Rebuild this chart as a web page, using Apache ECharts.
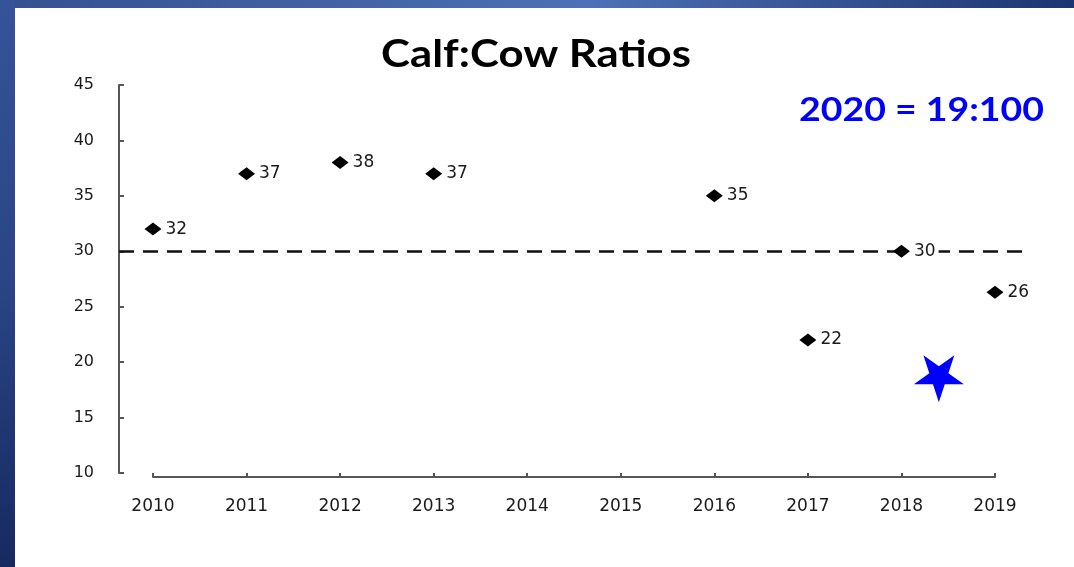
<!DOCTYPE html>
<html>
<head>
<meta charset="utf-8">
<script src="https://cdn.jsdelivr.net/npm/echarts@6/dist/echarts.min.js"></script>
<style>
  html, body { margin: 0; padding: 0; }
  body { width: 1074px; height: 567px; position: relative; overflow: hidden; }
  .topbar { position: absolute; left: 0; top: 0; width: 1074px; height: 8px;
    background: linear-gradient(90deg, #34508f 0%, #4e70b6 55%, #1d3570 100%); }
  .leftbar { position: absolute; left: 0; top: 0; width: 15px; height: 567px;
    background: linear-gradient(180deg, #36539a 0%, #2a4485 50%, #172a60 100%); }
  .panel { position: absolute; left: 15px; top: 8px; width: 1059px; height: 559px; background: #fff; }
  #chart { position: absolute; left: 0; top: 0; width: 1074px; height: 567px; }
</style>
</head>
<body>
<div class="topbar"></div>
<div class="leftbar"></div>
<div class="panel"></div>
<div id="chart"></div>
<script>
  // survey years with a count
  let years = [2010, 2011, 2012, 2013, 2016, 2017, 2018, 2019]
  let ratios = [32, 37, 38, 37, 35, 22, 30, 26.3]
  // 2020 estimate drawn as a star
  let star2020 = [2018.4, 18.5]
  let target = 30

  let starPath = 'path://M0,100 L-22.5,30.9 L-95.1,30.9 L-36.3,-11.8 L-58.8,-80.9 L0,-38.2 L58.8,-80.9 L36.3,-11.8 L95.1,30.9 L22.5,30.9 Z'
  let axisColor = '#555'
  let textColor = '#1a1a1a'
  let font = 'DejaVu Sans'

  let myChart = echarts.init(document.getElementById('chart'))
  let option = {
    animation: false,
    graphic: [
      {
        type: 'text',
        x: 536,
        y: 55,
        scaleX: 1.15,
        style: {
          text: 'Calf:Cow Ratios',
          fill: '#000',
          font: 'bold 38px Lato',
          textAlign: 'center',
          textVerticalAlign: 'middle'
        }
      },
      {
        type: 'text',
        x: 1044,
        y: 111,
        scaleX: 1.17,
        style: {
          text: '2020 = 19:100',
          fill: '#0000ff',
          font: 'bold 32px Lato',
          textAlign: 'right',
          textVerticalAlign: 'middle'
        }
      }
    ],
    grid: [
      {left: 119, right: 46, top: 85, bottom: 94},
      {left: 153, right: 79, top: 85, bottom: 94}
    ],
    xAxis: [
      {gridIndex: 0, type: 'value', min: 2009.6, max: 2019.4, show: false},
      {
        gridIndex: 1,
        type: 'value',
        min: 2010,
        max: 2019,
        interval: 1,
        offset: 4,
        axisLine: {show: true, lineStyle: {color: axisColor, width: 2}},
        axisTick: {show: true, inside: true, length: 4, lineStyle: {color: axisColor, width: 2}},
        axisLabel: {margin: 21, color: textColor, fontSize: 17, fontFamily: font, formatter: v => String(v)},
        splitLine: {show: false}
      }
    ],
    yAxis: [
      {
        gridIndex: 0,
        type: 'value',
        min: 10,
        max: 45,
        interval: 5,
        axisLine: {show: true, lineStyle: {color: axisColor, width: 2}},
        axisTick: {show: true, inside: true, length: 5, lineStyle: {color: axisColor, width: 2}},
        axisLabel: {margin: 25, color: textColor, fontSize: 16, fontFamily: font},
        splitLine: {show: false}
      },
      {gridIndex: 1, type: 'value', min: 10, max: 45, show: false}
    ],
    series: [
      {
        type: 'line',
        xAxisIndex: 0,
        yAxisIndex: 0,
        z: 1,
        data: [],
        markLine: {
          silent: true,
          z: 1,
          symbol: 'none',
          label: {show: false},
          lineStyle: {color: '#111', type: [15, 9], width: 2.5},
          data: [{yAxis: target}]
        }
      },
      {
        type: 'scatter',
        xAxisIndex: 1,
        yAxisIndex: 1,
        z: 3,
        symbol: 'diamond',
        symbolSize: [17, 13],
        itemStyle: {color: '#000', opacity: 1},
        label: {
          show: true,
          position: 'right',
          distance: 0,
          color: textColor,
          fontSize: 17,
          fontFamily: font,
          backgroundColor: '#fff',
          padding: [0, 3, 0, 4],
          formatter: p => Math.round(p.value[1])
        },
        data: years.map((y, i) => [y, ratios[i]])
      },
      {
        type: 'scatter',
        xAxisIndex: 1,
        yAxisIndex: 1,
        z: 3,
        symbol: starPath,
        symbolSize: [50, 47],
        itemStyle: {color: '#0000ff', opacity: 1},
        data: [star2020]
      }
    ]
  }
  myChart.setOption(option)
</script>
</body>
</html>
